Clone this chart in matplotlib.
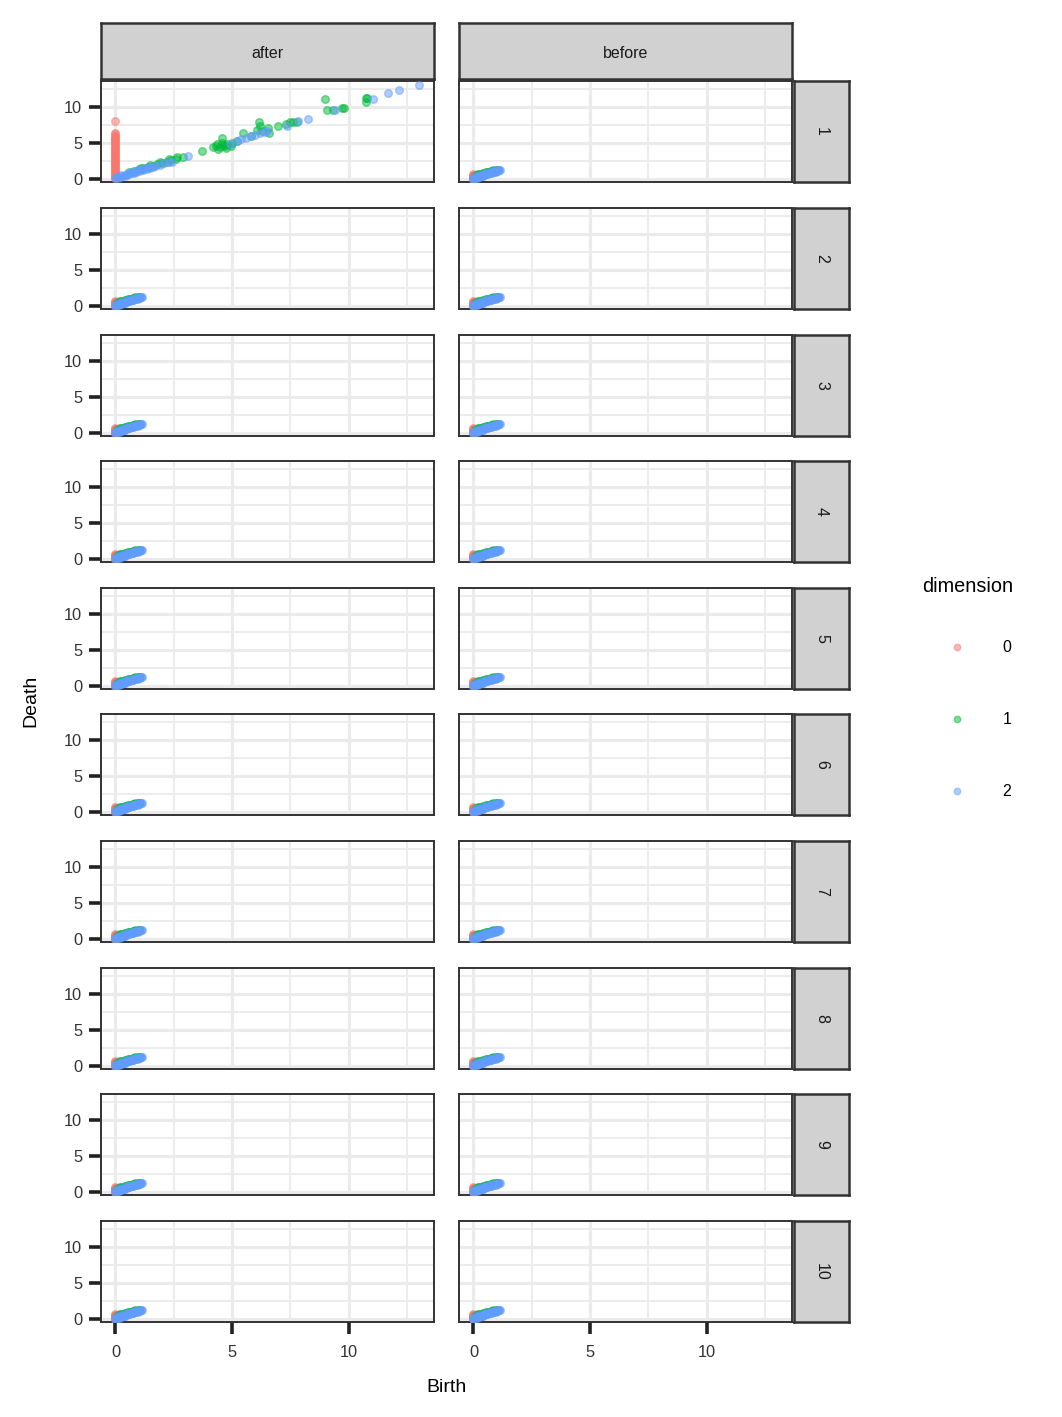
import matplotlib
matplotlib.use("Agg")
import matplotlib.pyplot as plt
from matplotlib.lines import Line2D

plt.rcParams['font.family'] = ['Liberation Sans', 'DejaVu Sans']

# facets
groups = ['after', 'before']
runs = ['1', '2', '3', '4', '5', '6', '7', '8', '9', '10']
dims = ['0', '1', '2']
dim_colors = ['#F8766D', '#00BA38', '#619CFF']

# run 1 / after : the only panel with long-lived features
after1_dim0_birth = [0.0, 0.0, 0.0, 0.0, 0.0, 0.0, 0.0, 0.0, 0.0, 0.0, 0.0, 0.0,
                     0.0, 0.0, 0.0, 0.0, 0.0, 0.0, 0.0, 0.0, 0.0, 0.0, 0.0, 0.0,
                     0.0, 0.0, 0.0, 0.0, 0.0, 0.0, 0.0, 0.0, 0.0, 0.0]
after1_dim0_death = [0.05, 0.2, 0.4, 0.6, 0.8, 1.0, 1.2, 1.4, 1.6, 1.8, 2.0, 2.2,
                     2.4, 2.6, 2.8, 3.0, 3.2, 3.4, 3.6, 3.8, 4.0, 4.2, 4.4, 4.6,
                     4.8, 5.0, 5.2, 5.4, 5.6, 5.8, 6.0, 6.2, 6.35, 8.05]

after1_dim1_birth = [0.6, 0.8, 1.0, 1.2, 1.4, 1.6, 1.8, 2.0, 2.2, 2.4, 2.6, 2.64,
                     2.9, 3.7, 4.2, 4.3, 4.4, 4.5, 4.6, 4.7, 4.8, 5.0, 5.2, 4.56,
                     5.46, 5.8, 6.07, 6.3, 6.6, 6.13, 6.2, 6.55, 6.98, 7.3, 7.48,
                     7.6, 7.8, 8.97, 9.08, 9.33, 9.7, 9.8, 10.73, 10.73, 10.8,
                     4.35, 4.55, 4.75, 4.95, 1.1, 1.5, 1.9, 2.3]
after1_dim1_death = [0.9, 1.1, 1.3, 1.5, 1.6, 1.8, 2.0, 2.2, 2.4, 2.6, 2.8, 3.0,
                     3.0, 3.9, 4.4, 4.6, 4.1, 4.4, 4.7, 4.6, 4.9, 5.0, 5.3, 5.7,
                     6.3, 5.9, 6.8, 6.6, 6.4, 7.96, 7.4, 7.1, 7.3, 7.6, 7.96,
                     7.9, 7.96, 11.1, 9.5, 9.5, 9.8, 9.8, 11.3, 10.7, 11.2,
                     4.8, 5.0, 4.3, 4.5, 1.5, 1.9, 2.3, 2.7]

after1_dim2_birth = [0.0, 0.1, 0.2, 0.3, 0.4, 0.5, 0.6, 0.7, 0.8, 0.9, 1.0, 1.1,
                     1.2, 1.35, 1.5, 1.6, 1.7, 1.9, 2.1, 2.3, 2.42, 3.1, 4.9,
                     5.2, 5.4, 5.6, 5.8, 6.0, 6.2, 6.4, 6.5, 7.33, 7.83, 8.26,
                     9.4, 11.04, 11.7, 12.15, 13.0,
                     0.05, 0.25, 0.45, 0.65, 0.85, 1.05, 1.25, 1.45]
after1_dim2_death = [0.05, 0.15, 0.25, 0.35, 0.45, 0.55, 0.65, 0.75, 0.85, 0.95,
                     1.05, 1.15, 1.25, 1.4, 1.55, 1.65, 1.75, 1.95, 2.15, 2.4,
                     2.4, 3.1, 4.85, 5.3, 5.5, 5.7, 5.9, 6.1, 6.3, 6.5, 6.6,
                     7.36, 8.0, 8.3, 9.5, 11.1, 11.9, 12.4, 13.1,
                     0.3, 0.5, 0.7, 0.9, 1.1, 1.3, 1.5, 1.7]

# every other panel: a short cluster near the origin
small_dim0_birth = [0.0, 0.0, 0.0, 0.0, 0.0, 0.0, 0.0, 0.02, 0.04]
small_dim0_death = [0.0, 0.1, 0.2, 0.3, 0.4, 0.5, 0.6, 0.5, 0.35]

small_dim1_birth = [0.05, 0.15, 0.25, 0.35, 0.45, 0.55, 0.65, 0.75, 0.85, 0.95, 1.05,
                    0.2, 0.4, 0.6, 0.8, 1.0]
small_dim1_death = [0.4, 0.5, 0.6, 0.7, 0.8, 0.9, 1.0, 1.05, 1.15, 1.2, 1.25,
                    0.6, 0.8, 0.95, 1.1, 1.2]

small_dim2_birth = [0.0, 0.05, 0.1, 0.15, 0.2, 0.25, 0.3, 0.35, 0.4, 0.45, 0.5,
                    0.55, 0.6, 0.65, 0.7, 0.75, 0.8, 0.85, 0.9, 0.95, 1.0, 1.05,
                    1.1, 1.15, 0.1, 0.3, 0.5, 0.7, 0.9,
                    0.0, 0.2, 0.4, 0.6, 0.8, 1.0, 0.15, 0.35, 0.55, 0.75, 0.95]
small_dim2_death = [0.0, 0.05, 0.1, 0.15, 0.2, 0.3, 0.35, 0.4, 0.45, 0.5, 0.6,
                    0.65, 0.7, 0.75, 0.8, 0.85, 0.9, 0.95, 1.0, 1.05, 1.1, 1.15,
                    1.2, 1.25, 0.35, 0.55, 0.75, 0.95, 1.1,
                    0.15, 0.3, 0.5, 0.7, 0.9, 1.05, 0.2, 0.4, 0.6, 0.8, 1.0]

after1 = [(after1_dim0_birth, after1_dim0_death),
          (after1_dim1_birth, after1_dim1_death),
          (after1_dim2_birth, after1_dim2_death)]
small = [(small_dim0_birth, small_dim0_death),
         (small_dim1_birth, small_dim1_death),
         (small_dim2_birth, small_dim2_death)]

W, H = 1062, 1417
fig = plt.figure(figsize=(W / 100, H / 100), dpi=100)


def px_axes(x0, y0, x1, y1):
    return fig.add_axes([x0 / W, 1 - y1 / H, (x1 - x0) / W, (y1 - y0) / H])


col_x = [(101, 434), (459, 792)]
row_top = [81, 208, 335, 461, 588, 714, 841, 968, 1094, 1221]
panel_h = 101
border = '#333333'
strip_fill = '#D1D1D1'
pt_size = 30
pt_lw = 1.0


def style_strip(ax):
    ax.set_facecolor(strip_fill)
    ax.set_xticks([])
    ax.set_yticks([])
    for s in ax.spines.values():
        s.set_color(border)
        s.set_linewidth(1.8)


# top strips
for c, g in enumerate(groups):
    sa = px_axes(col_x[c][0], 23, col_x[c][1], 79)
    style_strip(sa)
    sa.text(0.5, 0.45, g, ha='center', va='center', fontsize=11.5,
            color='#1A1A1A', transform=sa.transAxes)

for r, run in enumerate(runs):
    top = row_top[r]
    for c, g in enumerate(groups):
        ax = px_axes(col_x[c][0], top, col_x[c][1], top + panel_h)
        data = after1 if (r == 0 and g == 'after') else small
        for (b, d), col in zip(data, dim_colors):
            ax.scatter(b, d, s=pt_size, color=col, alpha=0.5, linewidths=pt_lw,
                       edgecolors=col, zorder=3)
        ax.set_xlim(-0.62, 13.65)
        ax.set_ylim(-0.45, 13.6)
        ax.set_xticks([0, 5, 10])
        ax.set_yticks([0, 5, 10])
        ax.set_xticks([2.5, 7.5, 12.5], minor=True)
        ax.set_yticks([2.5, 7.5, 12.5], minor=True)
        ax.set_axisbelow(True)
        ax.grid(which='major', color='#EBEBEB', linewidth=2.3)
        ax.grid(which='minor', color='#EBEBEB', linewidth=1.3)
        ax.tick_params(which='minor', length=0)
        ax.tick_params(which='major', direction='out', length=8.5, width=2.6,
                       color='#222222', labelsize=11.8, labelcolor='#333333',
                       pad=5)
        ax.tick_params(axis='x', bottom=(r == len(runs) - 1),
                       labelbottom=(r == len(runs) - 1), pad=8)
        ax.tick_params(axis='y', left=(c == 0), labelleft=(c == 0))
        for s in ax.spines.values():
            s.set_color(border)
            s.set_linewidth(1.4)

    # right strip
    ra = px_axes(794, top, 849, top + panel_h)
    style_strip(ra)
    ra.text(0.5, 0.5, run, ha='center', va='center', fontsize=11.5,
            rotation=-90, color='#1A1A1A', transform=ra.transAxes)

fig.text(446.5 / W, 1 - 1387 / H, 'Birth', ha='center', va='center', fontsize=14)
fig.text(31 / W, 1 - 701 / H, 'Death', ha='center', va='center', fontsize=14,
         rotation=90)

# legend, laid out by hand to match the guide spacing
fig.text(968 / W, 1 - 586 / H, 'dimension', ha='center', va='center', fontsize=14.3)
for i, (lab, col) in enumerate(zip(dims, dim_colors)):
    yk = 1 - (647 + 72 * i) / H
    fig.add_artist(Line2D([957 / W], [yk], transform=fig.transFigure,
                          linestyle='none', marker='o', markersize=4.6,
                          markerfacecolor=col, markeredgecolor=col,
                          markeredgewidth=1.0, alpha=0.5))
    fig.text(1007 / W, yk, lab, ha='center', va='center', fontsize=11.5)

fig.savefig('out.png', dpi=100)
